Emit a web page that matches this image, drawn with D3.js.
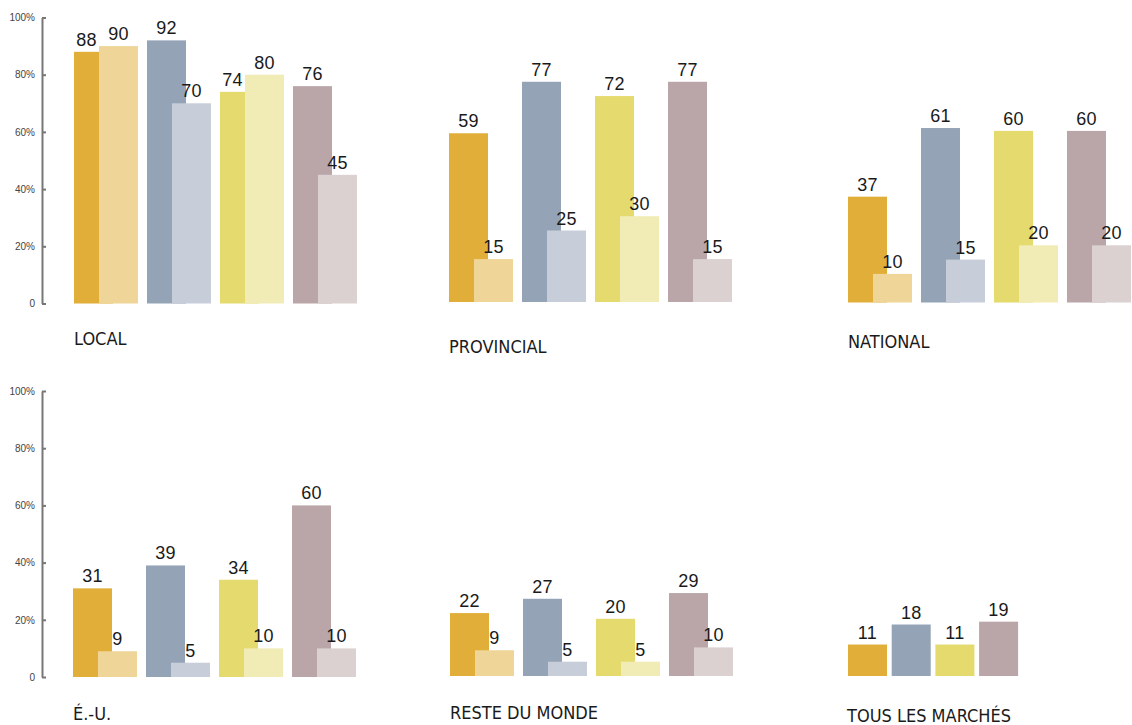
<!DOCTYPE html>
<html>
<head>
<meta charset="utf-8">
<script src="https://cdn.jsdelivr.net/npm/d3@7"></script>
<style>
  html, body { margin: 0; padding: 0; background: #fff; }
  svg { display: block; }
  .value { font-family: "Liberation Sans", Arial, sans-serif; font-size: 18px; fill: #1a1a1a; letter-spacing: 0.3px; }
  .title { font-family: "DejaVu Sans Condensed", "Liberation Sans Narrow", sans-serif; font-stretch: condensed; font-size: 18px; fill: #1a1a1a; }
  .axis text { font-family: "Liberation Sans", Arial, sans-serif; font-size: 10px; fill: #444; }
  .axis path, .axis line { stroke: #777; stroke-width: 2px; }
</style>
</head>
<body>
<svg id="chart" width="1132" height="725"></svg>
<script>
// Markets shown, one small panel each
const markets = ["LOCAL", "PROVINCIAL", "NATIONAL", "É.-U.", "RESTE DU MONDE", "TOUS LES MARCHÉS"];
// Four groups per market
const groups = ["A", "B", "C", "D"];
// Main (dark) series, per market
const darkValues = [
  [88, 92, 74, 76],
  [59, 77, 72, 77],
  [37, 61, 60, 60],
  [31, 39, 34, 60],
  [22, 27, 20, 29],
  [11, 18, 11, 19]
];
// Secondary (light) series, per market (none for the total panel)
const lightValues = [
  [90, 70, 80, 45],
  [15, 25, 30, 15],
  [10, 15, 20, 20],
  [9, 5, 10, 10],
  [9, 5, 5, 10],
  []
];
const yTicks = [0, 20, 40, 60, 80, 100];

const darkColors = ["#e1ae3a", "#94a3b5", "#e4da6e", "#baa6a8"];
const lightColors = ["#efd597", "#c7ced9", "#f1ecb6", "#dbd1d1"];

// Panel layout: left edge of first bar, bar baseline, title position, axis flag
const layout = [
  { x0: 74,  base: 303.5, tx: 74,  ty: 345, axis: true },
  { x0: 449, base: 302,   tx: 449, ty: 353, axis: false },
  { x0: 848, base: 302.5, tx: 848, ty: 348, axis: false },
  { x0: 73,  base: 677,   tx: 73,  ty: 720, axis: true },
  { x0: 450, base: 676,   tx: 450, ty: 719, axis: false },
  { x0: 848, base: 676,   tx: 847, ty: 722, axis: false }
];

const barW = 39;       // width of each bar
const pairOffset = 25; // light bar offset from dark bar
const plotH = 286;     // pixel height of 100%

const svg = d3.select("#chart");

markets.forEach((name, i) => {
  const L = layout[i];
  const paired = lightValues[i].length > 0;
  const step = paired ? 73 : 43.7;
  const groupW = paired ? barW + pairOffset : barW;

  const x = d3.scaleBand()
    .domain(groups)
    .range([L.x0, L.x0 + step * groups.length - (step - groupW)])
    .paddingInner((step - groupW) / step)
    .paddingOuter(0);

  const sub = d3.scalePoint().domain(["dark", "light"]).range([0, pairOffset]);

  const y = d3.scaleLinear().domain([0, 100]).range([L.base, L.base - plotH]);

  const g = svg.append("g");

  if (L.axis) {
    const axis = d3.axisLeft(y)
      .tickValues(yTicks)
      .tickSize(-4)
      .tickSizeOuter(0)
      .tickPadding(7)
      .tickFormat(d => d === 0 ? "0" : d + "%");
    g.append("g")
      .attr("class", "axis")
      .attr("transform", "translate(42,0)")
      .call(axis);
  }

  const rows = groups.map((k, j) => ({
    key: k,
    j,
    dark: darkValues[i][j],
    light: paired ? lightValues[i][j] : null
  }));

  // dark bars
  g.selectAll("rect.dark").data(rows).enter().append("rect")
    .attr("class", "dark")
    .attr("x", d => x(d.key) + sub("dark"))
    .attr("y", d => y(d.dark))
    .attr("width", barW)
    .attr("height", d => y(0) - y(d.dark))
    .attr("fill", d => darkColors[d.j]);

  if (paired) {
    // light bars, drawn over the right part of the dark bars
    g.selectAll("rect.light").data(rows).enter().append("rect")
      .attr("class", "light")
      .attr("x", d => x(d.key) + sub("light"))
      .attr("y", d => y(d.light))
      .attr("width", barW)
      .attr("height", d => y(0) - y(d.light))
      .attr("fill", d => lightColors[d.j]);

    g.selectAll("text.lv").data(rows).enter().append("text")
      .attr("class", "value lv")
      .attr("x", d => x(d.key) + sub("light") + barW / 2)
      .attr("y", d => y(d.light) - 6)
      .attr("text-anchor", "middle")
      .text(d => d.light);
  }

  // dark value labels: centered on the visible part when the light bar is taller
  g.selectAll("text.dv").data(rows).enter().append("text")
    .attr("class", "value dv")
    .attr("x", d => {
      const left = x(d.key) + sub("dark");
      if (paired && d.light > d.dark) return left + pairOffset / 2;
      return left + barW / 2;
    })
    .attr("y", d => y(d.dark) - 6)
    .attr("text-anchor", "middle")
    .text(d => d.dark);

  g.append("text")
    .attr("class", "title")
    .attr("x", L.tx)
    .attr("y", L.ty)
    .text(name);
});
</script>
</body>
</html>
